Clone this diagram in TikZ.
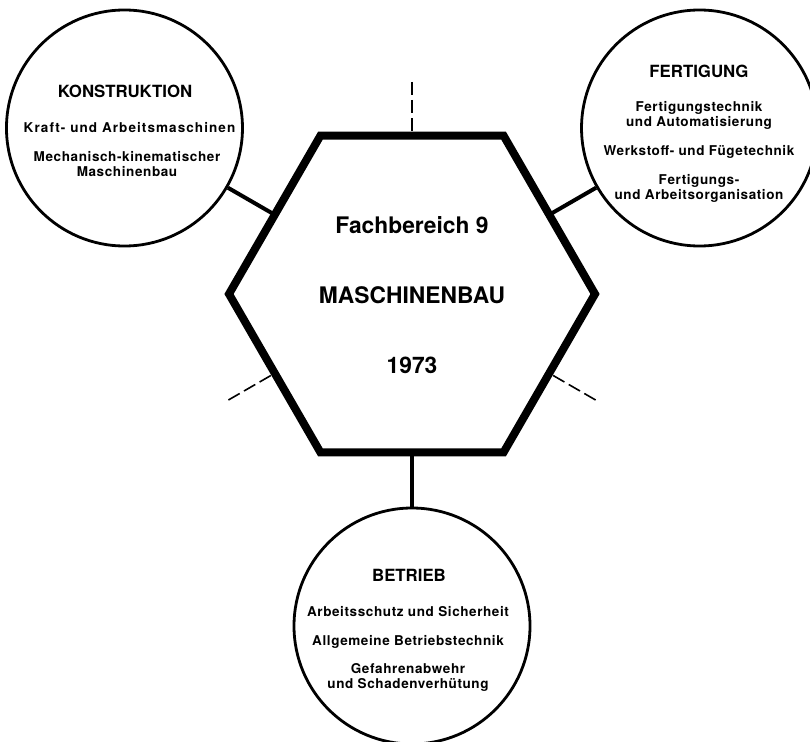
\documentclass[tikz,border=0pt]{standalone}
\usepackage{fontspec}
\setmainfont{TeX Gyre Heros}
\newfontfamily\itemfont{TeX Gyre Heros}[LetterSpace=4.5]
\newfontfamily\itemwidefont{TeX Gyre Heros}[LetterSpace=8]
\usetikzlibrary{calc}
\begin{document}
\begin{tikzpicture}[x=1pt,y=-1pt,
  hexline/.style={line width=8pt,line join=miter},
  ring/.style={circle,draw,line width=2.8pt,minimum size=236pt,inner sep=0pt},
  link/.style={line width=4pt},
  stub/.style={line width=1.6pt,dash pattern=on 13pt off 5pt},
  ttl/.style={inner sep=0pt,font=\fontsize{16.8}{19}\selectfont\bfseries},
  itm/.style={inner sep=0pt,align=center,font=\itemfont\fontsize{13.5}{14.5}\selectfont\bfseries},
  itmwide/.style={itm,font=\itemwidefont\fontsize{13.5}{14.5}\selectfont\bfseries},
  big/.style={inner sep=0pt,font=\fontsize{22.8}{26}\selectfont\bfseries}]
\useasboundingbox (0,0) rectangle (810,741);
\fill[white] (0,0) rectangle (810,741);
\coordinate (H) at (412,294);
\foreach \a [count=\i] in {0,60,120,180,240,300}
  \coordinate (h\i) at ($(H)+(\a:183)$);
\foreach \a [count=\i] in {30,90,150,210,270,330}
  \coordinate (m\i) at ($(H)+(\a:158.5)$);
% circles
\node[ring] (K) at ($(H)+(210:332)$) {};
\node[ring] (F) at ($(H)+(330:332)$) {};
\node[ring] (B) at ($(H)+(90:332)$) {};
% solid connectors
\draw[link] (m4) -- (K);
\draw[link] (m6) -- (F);
\draw[link] (m2) -- (B);
% dashed stubs
\coordinate (s1) at ($(H)+(30:212)$);
\coordinate (s3) at ($(H)+(150:212)$);
\coordinate (s5) at ($(H)+(270:212)$);
\draw[stub] (s1) -- (m1);
\draw[stub] (s3) -- (m3);
\draw[stub] (s5) -- (m5);
% hexagon
\draw[hexline] (h1) -- (h2) -- (h3) -- (h4) -- (h5) -- (h6) -- cycle;
\node[big] (hx1) at (412,225) {Fachbereich 9};
\node[big] (hx2) at (412,295) {MASCHINENBAU};
\node[big] (hx3) at (412,365) {1973};
% Konstruktion
\node[ttl] (K0) at (125,91) {KONSTRUKTION};
\node[itmwide] (K1) at (129.5,127.5) {Kraft- und Arbeitsmaschinen};
\node[itm] (K2) at (127,164) {Mechanisch-kinematischer\\Maschinenbau};
% Fertigung
\node[ttl] (F0) at (699,71) {FERTIGUNG};
\node[itm] (F1) at (699,115.5) {Fertigungstechnik\\und Automatisierung};
\node[itm] (F2) at (699,151.5) {Werkstoff- und Fügetechnik};
\node[itm] (F3) at (699,188.5) {Fertigungs-\\und Arbeitsorganisation};
% Betrieb
\node[ttl] (B0) at (409,575) {BETRIEB};
\node[itm] (B1) at (408,612) {Arbeitsschutz und Sicherheit};
\node[itm] (B2) at (408,642) {Allgemeine Betriebstechnik};
\node[itm] (B3) at (408,677.5) {Gefahrenabwehr\\und Schadenverhütung};
\end{tikzpicture}
\end{document}
